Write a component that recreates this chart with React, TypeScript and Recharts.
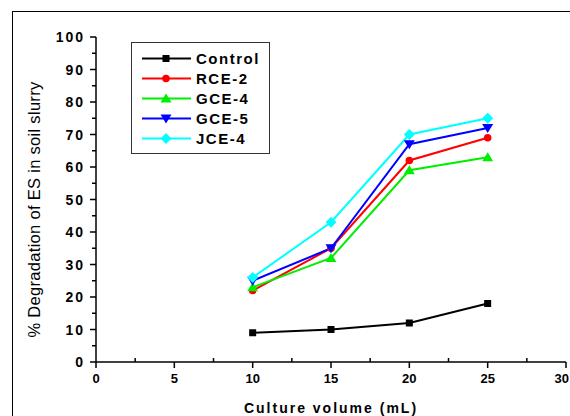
import { LineChart, Line, XAxis, YAxis, Legend } from "recharts";

const volumes = [10, 15, 20, 25];
const control = [9, 10, 12, 18];
const rce2 = [22, 35, 62, 69];
const gce4 = [23, 32, 59, 63];
const gce5 = [25, 35, 67, 72];
const jce4 = [26, 43, 70, 75];

const xTicks = [0, 2.5, 5, 7.5, 10, 12.5, 15, 17.5, 20, 22.5, 25, 27.5, 30];
const yTicks = [0, 5, 10, 15, 20, 25, 30, 35, 40, 45, 50, 55, 60, 65, 70, 75, 80, 85, 90, 95, 100];

const series = [
  { key: "control", name: "Control", values: control, color: "#000000", shape: "square" },
  { key: "rce2", name: "RCE-2", values: rce2, color: "#ff0000", shape: "circle" },
  { key: "gce4", name: "GCE-4", values: gce4, color: "#00ee00", shape: "up" },
  { key: "gce5", name: "GCE-5", values: gce5, color: "#0000ff", shape: "down" },
  { key: "jce4", name: "JCE-4", values: jce4, color: "#00ffff", shape: "diamond" },
];

const data = volumes.map((v, i) => {
  const row: Record<string, number> = { volume: v };
  series.forEach((s) => (row[s.key] = s.values[i]));
  return row;
});

const FONT = "'Liberation Sans', Arial, sans-serif";

const Marker = ({ cx, cy, shape, color }: any) => {
  if (shape === "square")
    return <rect x={cx - 3.5} y={cy - 3.5} width={7} height={7} fill={color} />;
  if (shape === "circle") return <circle cx={cx} cy={cy} r={3.8} fill={color} />;
  if (shape === "up")
    return <polygon points={`${cx},${cy - 5} ${cx + 5.5},${cy + 4} ${cx - 5.5},${cy + 4}`} fill={color} />;
  if (shape === "down")
    return <polygon points={`${cx - 5.5},${cy - 4} ${cx + 5.5},${cy - 4} ${cx},${cy + 5}`} fill={color} />;
  return <polygon points={`${cx},${cy - 5.5} ${cx + 5.5},${cy} ${cx},${cy + 5.5} ${cx - 5.5},${cy}`} fill={color} />;
};

const YTick = ({ x, y, payload }: any) => {
  const major = payload.value % 10 === 0;
  return (
    <g>
      <line x1={x} x2={x - (major ? 6 : 4)} y1={y} y2={y} stroke="#000" strokeWidth={1.5} />
      {major && (
        <text x={x - 11} y={y + 5} textAnchor="end" fontFamily={FONT} fontWeight="bold" fontSize={14} letterSpacing={2} fill="#000">
          {payload.value}
        </text>
      )}
    </g>
  );
};

const XTick = ({ x, y, payload }: any) => {
  const major = payload.value % 5 === 0;
  // the last label sits at the window edge, keep it inside
  const last = payload.value === 30;
  return (
    <g>
      <line x1={x} x2={x} y1={y} y2={major ? y + 6 : y - 4} stroke="#000" strokeWidth={1.5} />
      {major && (
        <text
          x={last ? 569 : x}
          y={y + 21}
          textAnchor={last ? "end" : "middle"}
          fontFamily={FONT}
          fontWeight="bold"
          fontSize={13}
          fill="#000"
        >
          {payload.value}
        </text>
      )}
    </g>
  );
};

const YLabel = ({ viewBox }: any) => {
  const cx = viewBox.x + 34;
  const cy = viewBox.y + viewBox.height / 2 + 10;
  return (
    <text x={cx} y={cy} transform={`rotate(-90, ${cx}, ${cy})`} textAnchor="middle" dominantBaseline="central" fontFamily={FONT} fontSize={16.5} letterSpacing={0.3} fill="#000">
      % Degradation of ES in soil slurry
    </text>
  );
};

const LegendBox = () => (
  <div style={{ border: "1.5px solid #333", width: 137, height: 110, boxSizing: "content-box", background: "#fff" }}>
    <svg width={137} height={110}>
      {series.map((s, i) => {
        const cy = 15.5 + i * 20;
        return (
          <g key={s.key}>
            <line x1={10} x2={59} y1={cy} y2={cy} stroke={s.color} strokeWidth={2} />
            <Marker cx={34} cy={cy} shape={s.shape} color={s.color} />
            <text x={64} y={cy + 5.5} fontFamily={FONT} fontWeight="bold" fontSize={15} letterSpacing={1.5} fill="#000">
              {s.name}
            </text>
          </g>
        );
      })}
    </svg>
  </div>
);

export default function App() {
  return (
    <div style={{ position: "absolute", left: 0, top: 0, width: 570, height: 416, overflow: "hidden", background: "#fff" }}>
      <div style={{ position: "absolute", left: 12, top: 11, width: 620, height: 460, border: "1.5px solid #000" }} />
      <div style={{ position: "absolute", left: 0, top: 0 }}>
        <LineChart width={570} height={416} data={data} margin={{ top: 37, right: 4, left: 0, bottom: 0 }}>
          <XAxis
            dataKey="volume"
            type="number"
            domain={[0, 30]}
            ticks={xTicks}
            interval={0}
            tickSize={0}
            tickMargin={0}
            tickLine={false}
            tick={<XTick />}
            height={54}
            stroke="#000"
            strokeWidth={1.5}
            label={{ value: "Culture volume (mL)", position: "insideBottom", offset: 3, fontFamily: FONT, fontWeight: "bold", fontSize: 14, letterSpacing: 2, fill: "#000" }}
          />
          <YAxis
            type="number"
            domain={[0, 100]}
            ticks={yTicks}
            interval={0}
            tickSize={0}
            tickMargin={0}
            tickLine={false}
            tick={<YTick />}
            width={96}
            stroke="#000"
            strokeWidth={1.5}
            label={<YLabel />}
          />
          <Legend
            layout="horizontal"
            verticalAlign="middle"
            align="center"
            content={<LegendBox />}
            wrapperStyle={{ position: "absolute", left: 131, top: 42, width: 140, height: 113 }}
          />
          {series.map((s) => (
            <Line
              key={s.key}
              type="linear"
              dataKey={s.key}
              name={s.name}
              stroke={s.color}
              strokeWidth={2}
              isAnimationActive={false}
              dot={(p: any) => <Marker key={`${s.key}-${p.index}`} cx={p.cx} cy={p.cy} shape={s.shape} color={s.color} />}
              activeDot={false}
            />
          ))}
        </LineChart>
      </div>
    </div>
  );
}
